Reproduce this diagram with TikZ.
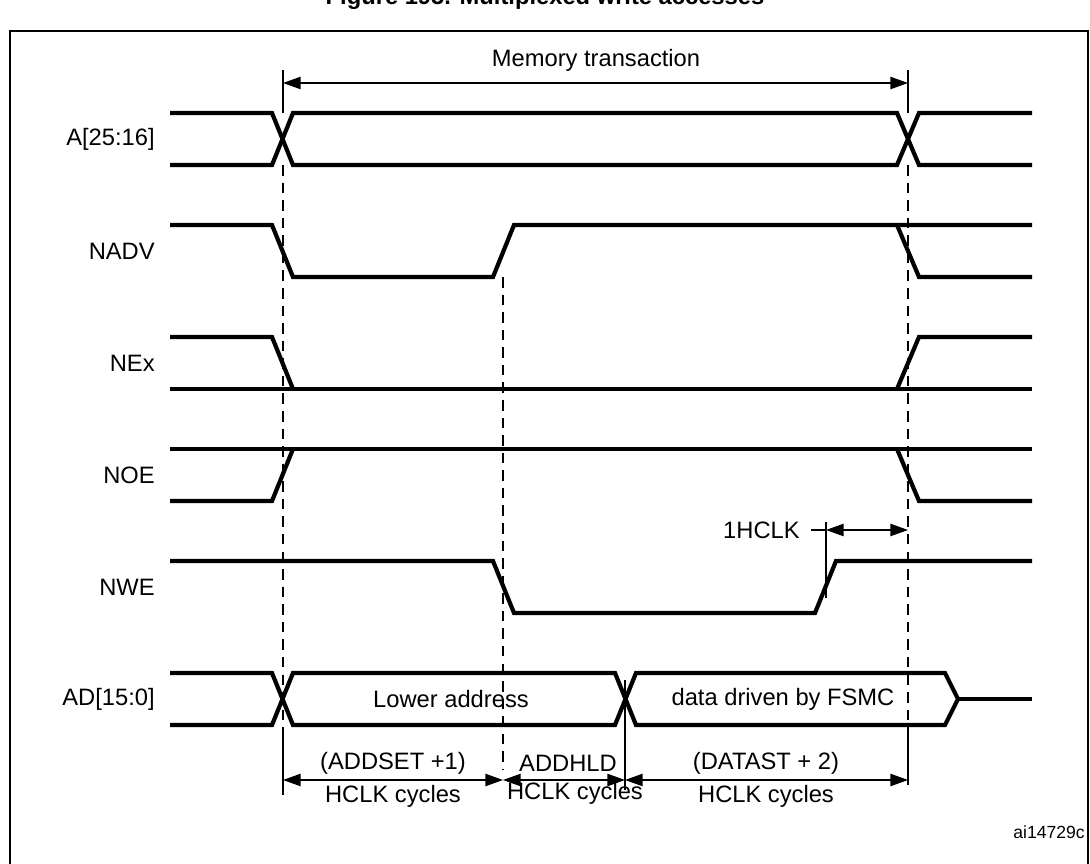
\documentclass[tikz,border=0pt]{standalone}
\usepackage{fontspec}
\setmainfont{Liberation Sans}
\usetikzlibrary{arrows.meta}
\begin{document}
\begin{tikzpicture}[x=0.02cm,y=-0.02cm,
  sig/.style={line width=2.4pt,line join=miter},
  dim/.style={line width=0.7pt},
  dsh/.style={line width=0.7pt,dash pattern=on 6pt off 4pt},
  arr/.style={line width=0.7pt,{Triangle[length=10pt,width=7pt]}-{Triangle[length=10pt,width=7pt]}},
  lab/.style={font=\fontsize{13.5}{15}\selectfont,inner sep=0pt},
  sname/.style={lab,anchor=east}]
\useasboundingbox (0,0) rectangle (1090,864);
\begin{scope}
\clip (0,0) rectangle (1090,864);
\node[font=\bfseries\fontsize{13.5}{15}\selectfont,inner sep=0pt] (title) at (545,-2) {Figure 195. Multiplexed write accesses};
\end{scope}
\draw[line width=1.4pt] (10,880) -- (10,31) -- (1088,31) -- (1088,880);
% names
\node[sname] (nA) at (155,139) {A[25:16]};
\node[sname] (nNADV) at (155,251) {NADV};
\node[sname] (nNEx) at (155,363) {NEx};
\node[sname] (nNOE) at (155,475) {NOE};
\node[sname] (nNWE) at (155,587) {NWE};
\node[sname] (nAD) at (155,699) {AD[15:0]};
% dashed
\draw[dsh] (283,165) -- (283,765);
\draw[dsh] (503,277) -- (503,770);
\draw[dsh] (908,165) -- (908,765);
% A
\draw[sig] (170,113) -- (272,113) -- (293,165) -- (897,165) -- (919,113) -- (1032,113);
\draw[sig] (170,165) -- (272,165) -- (293,113) -- (897,113) -- (919,165) -- (1032,165);
% NADV
\draw[sig] (170,225) -- (272,225) -- (293,277) -- (493,277) -- (514,225) -- (1032,225);
\draw[sig] (897,225) -- (919,277) -- (1032,277);
% NEx
\draw[sig] (170,337) -- (272,337) -- (293,389);
\draw[sig] (170,389) -- (1032,389);
\draw[sig] (897,389) -- (919,337) -- (1032,337);
% NOE
\draw[sig] (170,449) -- (1032,449);
\draw[sig] (170,501) -- (272,501) -- (293,449);
\draw[sig] (897,449) -- (919,501) -- (1032,501);
% NWE
\draw[sig] (170,561) -- (493,561) -- (514,613) -- (815,613) -- (836,561) -- (1032,561);
% AD
\draw[sig] (170,673) -- (272,673) -- (293,725) -- (615,725) -- (636,673) -- (945,673) -- (958,699) -- (945,725) -- (636,725) -- (615,673) -- (293,673) -- (272,725) -- (170,725);
\draw[sig] (958,699) -- (1032,699);
\node[lab] (la) at (451,699) {Lower address};
\node[lab] (ld) at (783,699) {data driven by FSMC};
% memory transaction
\coordinate (m1) at (283,83); \coordinate (m2) at (908,83);
\draw[dim] (283,70) -- (283,113); \draw[dim] (908,70) -- (908,113);
\draw[arr] (m1) -- (m2);
\node[lab] (mt) at (596,60) {Memory transaction};
% 1HCLK
\coordinate (h1) at (826,530); \coordinate (h2) at (908,530);
\draw[dim] (826,522) -- (826,598);
\draw[dim] (811,530) -- (h1);
\draw[arr] (h1) -- (h2);
\node[lab,anchor=east] (hc) at (800,530) {1HCLK};
% bottom
\draw[dim] (283,735) -- (283,795);
\draw[dim] (625,680) -- (625,790);
\draw[dim] (908,730) -- (908,785);
\coordinate (b1) at (283,780); \coordinate (b2) at (503,780);
\coordinate (b3) at (625,780); \coordinate (b4) at (908,780);
\draw[arr] (b1) -- (b2);
\draw[arr] (b2) -- (b3);
\draw[arr] (b3) -- (b4);
\node[lab] (t1) at (393,763) {(ADDSET +1)};
\node[lab] (t2) at (393,796) {HCLK cycles};
\node[lab] (t3) at (568,763) {ADDHLD};
\node[lab] (t4) at (575,793) {HCLK cycles};
\node[lab] (t5) at (766,763) {(DATAST + 2)};
\node[lab] (t6) at (766,796) {HCLK cycles};
\node[lab,font=\fontsize{10}{12}\selectfont,anchor=east] (ai) at (1085,832) {ai14729c};
\end{tikzpicture}
\end{document}
